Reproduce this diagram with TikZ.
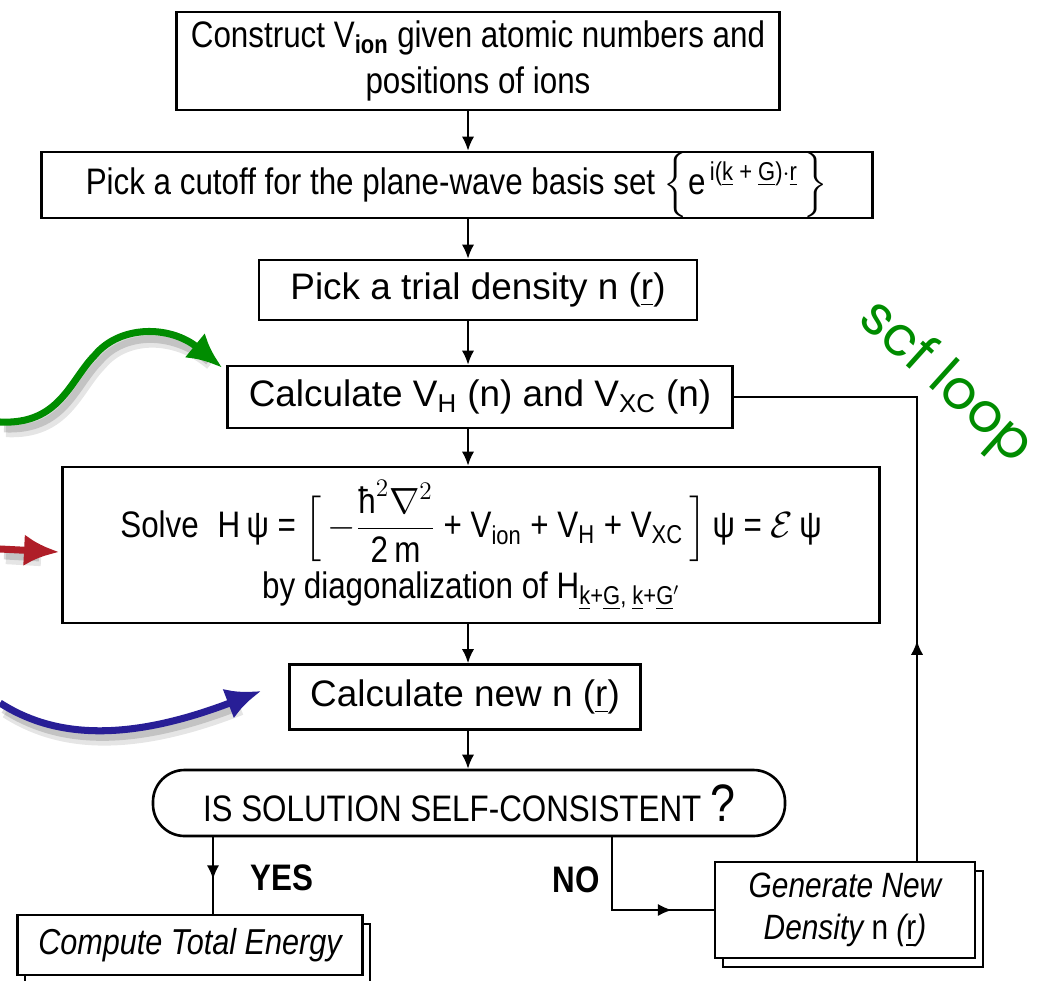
\documentclass[tikz,border=0pt]{standalone}
\usepackage{amsmath}
\usepackage{fontspec}
\setmainfont{Liberation Sans}[FakeStretch=0.85]
\newfontfamily\widefont{Liberation Sans}
\newfontfamily\scffont{Poppins}
\usetikzlibrary{arrows.meta,decorations.markings,shadows,calc}
\definecolor{mygreen}{RGB}{0,140,0}
\definecolor{myred}{RGB}{175,30,40}
\definecolor{myblue}{RGB}{40,30,150}
\newcommand\pxu{0.02cm}
\begin{document}
\begin{tikzpicture}[x=0.02cm,y=-0.02cm,
  box/.style={draw, line width=1.5pt, inner sep=0pt, align=center, fill=white,
    font=\fontsize{21}{25}\selectfont},
  widebox/.style={box, font=\widefont\fontsize{21}{25}\selectfont},
  flow/.style={line width=1.1pt, -{Latex[length=8pt,width=7pt]}},
  midflow/.style={line width=1.1pt, postaction={decorate},
    decoration={markings, mark=at position #1 with {\arrow{Latex[length=8pt,width=7pt]}}}},
  bigarrow/.style={line width=4pt, -{Latex[length=20pt,width=18pt]}},
  shade1/.style={line width=7pt, black, opacity=0.10},
  shade2/.style={line width=5pt, black, opacity=0.15},
  stackbox/.style={box, copy shadow={shadow xshift=4.5pt, shadow yshift=-5pt, draw, line width=1.2pt, fill=white}},
]
\useasboundingbox (0,0) rectangle (1043,980);
\coordinate (spine) at (468,0);

\node[box, minimum width=603*\pxu, minimum height=98*\pxu] (b1) at (478,61)
  {Construct V\textsubscript{\textbf{ion}} given atomic numbers and\\[1pt] positions of ions};
\node[box, minimum width=831*\pxu, minimum height=66*\pxu] (b2) at (457,185)
  {Pick a cutoff for the plane-wave basis set $\Bigl\{$e\textsuperscript{\,i(\underline{k} + \underline{G})$\cdot$\underline{r}}\,$\Bigr\}$};
\node[widebox, minimum width=438*\pxu, minimum height=60*\pxu] (b3) at (478,290)
  {Pick a trial density n (\underline{r})};
\node[widebox, minimum width=505*\pxu, minimum height=62*\pxu] (b4) at (480,397)
  {Calculate V\textsubscript{H} (n) and V\textsubscript{XC} (n)};
\node[box, minimum width=817*\pxu, minimum height=156*\pxu] (b5) at (471,545)
  {Solve \;H\,ψ = $\Bigl[\,-\dfrac{\text{ħ}^{2}\nabla^{2}}{\text{2\,m}}$ + V\textsubscript{ion} + V\textsubscript{H} + V\textsubscript{XC}$\,\Bigr]$\,ψ = $\mathcal{E}$\,ψ\\[4pt]
   by diagonalization of H\textsubscript{\underline{k}+\underline{G}, \underline{k}+\underline{G}$'$}};
\node[widebox, minimum width=351*\pxu, minimum height=65*\pxu] (b6) at (465,697)
  {Calculate new n (\underline{r})};
\node[box, rounded corners=18pt, minimum width=632*\pxu, minimum height=66*\pxu] (dec) at (469,803)
  {IS SOLUTION SELF-CONSISTENT {\fontsize{30}{30}\selectfont ?}};
\node[stackbox, minimum width=345*\pxu, minimum height=60*\pxu, font=\itshape\fontsize{20.5}{25}\selectfont] (comp) at (190,945)
  {Compute Total Energy};
\node[stackbox, minimum width=260*\pxu, minimum height=96*\pxu, font=\itshape\fontsize{20}{24}\selectfont] (gen) at (845,910)
  {Generate New\\Density {\upshape n} ({\upshape\underline{r}})};

\draw[flow] (b1.south -| spine) -- (b2.north -| spine);
\draw[flow] (b2.south -| spine) -- (b3.north -| spine);
\draw[flow] (b3.south -| spine) -- (b4.north -| spine);
\draw[flow] (b4.south -| spine) -- (b5.north -| spine);
\draw[flow] (b5.south -| spine) -- (b6.north -| spine);
\draw[flow] (b6.south -| spine) -- (dec.north -| spine);

\coordinate (yesx) at (213,0);
\coordinate (nox) at (612,0);
\coordinate (backx) at (917,0);
\draw[midflow=0.55] (dec.south -| yesx) -- (comp.north -| yesx);
\node[font=\bfseries\fontsize{21}{25}\selectfont, anchor=west] (yes) at (244,878) {YES};
\node[font=\bfseries\fontsize{21}{25}\selectfont] (no) at (576,880) {NO};
\draw[midflow=0.76] (dec.south -| nox) |- (gen.west);
\draw[midflow=0.34] (gen.north -| backx) |- (b4.east);

% colored arrows with soft shadows
\foreach \dx/\dy/\st in {6/9/shade1, 4/6/shade2}{
  \draw[\st, shift={(\dx,\dy)}] (0,422) .. controls (60,425) and (70,380) .. (95,355) .. controls (120,325) and (170,325) .. (205,355);
  \draw[\st, shift={(\dx,\dy)}] (0,549) -- (35,551);
  \draw[\st, shift={(\dx,\dy)}] (0,703) .. controls (50,735) and (120,745) .. (235,700);
}
\coordinate (gstart) at (0,422);
\coordinate (rstart) at (0,549);
\coordinate (bstart) at (0,703);
\draw[bigarrow, mygreen] (gstart) .. controls (60,425) and (70,380) .. (95,355) .. controls (120,325) and (170,325) .. ($(b4.north west)+(-4,3)$);
\draw[bigarrow, myred] (rstart) -- ($(b5.west)+(-2,7)$);
\draw[bigarrow, myblue] (bstart) .. controls (50,735) and (120,745) .. ($(b6.west)+(-27,-6)$);

\node[rotate=-42, text=mygreen, font=\scffont\fontsize{31}{31}\selectfont] (scf) at (945,383) {scf loop};
\end{tikzpicture}
\end{document}
